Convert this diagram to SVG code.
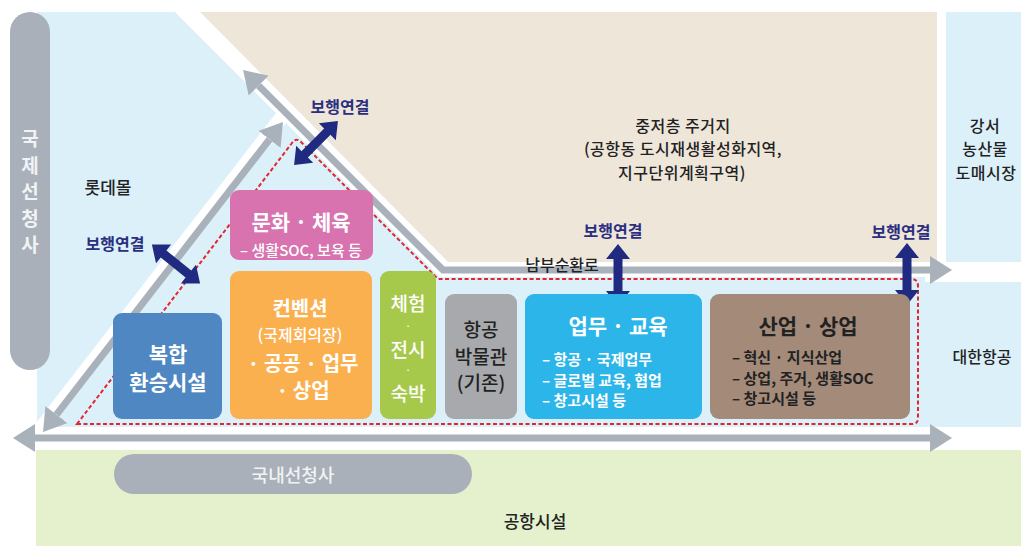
<svg xmlns="http://www.w3.org/2000/svg" width="1021" height="546" viewBox="0 0 1021 546">
<style>
.t{font-family:"Noto Sans CJK KR","Noto Sans",sans-serif;dominant-baseline:central;text-anchor:middle;}
.s{text-anchor:start;}
.b{font-weight:700;}
.m{font-weight:500;}
.dk{fill:#222;}
.wh{fill:#fff;}
.nv{fill:#2a2f80;font-weight:700;font-size:16px;}
.box{stroke:none;}
.road{fill:none;stroke:#a9b1bb;stroke-width:7;stroke-linejoin:miter;}
</style>
<defs>
<marker id="gh" viewBox="0 0 22 28" refX="0" refY="14" markerWidth="22" markerHeight="28" markerUnits="userSpaceOnUse" orient="auto-start-reverse">
<path d="M0,0 L22,14 L0,28 Z" fill="#a9b1bb"/>
</marker>
<polygon id="dbl" points="-31,0 -16,-12 -16,-4.5 16,-4.5 16,-12 31,0 16,12 16,4.5 -16,4.5 -16,12" fill="#1f2a80"/>
</defs>
<g id="background">
<rect x="0" y="0" width="1021" height="546" fill="#fff"/>
<rect x="37" y="12" width="984" height="415" fill="#dcf0fa"/>
<rect x="36" y="450" width="985" height="96" fill="#e5f1cd"/>
<polygon points="200,12 937,12 937,262 448,262" fill="#efe6da"/>
<rect x="937" y="0" width="9" height="282" fill="#fff"/>
<polygon points="175,12 200,12 448,262 1021,262 1021,282 925,282 925,277 440,277" fill="#fff"/>
<line x1="33.7" y1="437.5" x2="285.9" y2="111.7" stroke="#fff" stroke-width="14"/>
</g>
<g id="intl-terminal">
<rect x="10" y="12" width="40" height="358" rx="20" fill="#a9b0b9"/>
<text class="t b" font-size="19" fill="#f1f3f5"><tspan x="30" y="137">국</tspan><tspan x="30" y="164">제</tspan><tspan x="30" y="190">선</tspan><tspan x="30" y="217">청</tspan><tspan x="30" y="243">사</tspan></text>
</g>
<g id="dom-terminal">
<rect x="114" y="454" width="358" height="40" rx="20" fill="#a9b0b9"/>
<text class="t m" x="293" y="474" font-size="18" fill="#f1f3f5">국내선청사</text>
</g>
<g id="connectors">
<path class="road" d="M258.6,85.6 L443,270 L930,270" marker-start="url(#gh)" marker-end="url(#gh)"/>
<path class="road" d="M56.5,414.6 L269.5,139.4" marker-start="url(#gh)" marker-end="url(#gh)"/>
<path class="road" d="M35,438 L930,438" marker-start="url(#gh)" marker-end="url(#gh)"/>
<path d="M77,424 L292,143 Q296,137 301,142 L438,279 L911,279 Q918,279 918,286 L918,418 Q918,424 912,424 Z" fill="none" stroke="#e3262d" stroke-width="2" stroke-dasharray="4 2.5"/>
<use href="#dbl" transform="translate(316,143) rotate(-45)"/>
<use href="#dbl" transform="translate(176,264) rotate(39)"/>
<use href="#dbl" transform="translate(618,275) rotate(90)"/>
<use href="#dbl" transform="translate(907,274) rotate(90)"/>
</g>
<g id="labels">
<text class="t nv" x="340" y="106">보행연결</text>
<text class="t nv" x="115" y="243">보행연결</text>
<text class="t nv" x="613" y="230">보행연결</text>
<text class="t nv" x="901" y="231">보행연결</text>
<text class="t m dk" x="108" y="186" font-size="17">롯데몰</text>
<text class="t m dk" x="562" y="264" font-size="16">남부순환로</text>
<text class="t m dk" x="982" y="356" font-size="16">대한항공</text>
<text class="t m dk" x="535" y="520" font-size="17">공항시설</text>
</g>
<g id="residential">
<text class="t m dk" font-size="16" letter-spacing="0.5"><tspan x="683" y="125">중저층 주거지</tspan><tspan x="683" y="148.3">(공항동 도시재생활성화지역,</tspan><tspan x="682" y="171.6">지구단위계획구역)</tspan></text>
</g>
<g id="gangseo-market">
<text class="t m dk" font-size="16" letter-spacing="0.5"><tspan x="985" y="125">강서</tspan><tspan x="985" y="148.3">농산물</tspan><tspan x="986" y="171.6">도매시장</tspan></text>
</g>
<g id="culture">
<rect class="box" x="230" y="190" width="143" height="70" rx="9" fill="#d873b0"/>
<text class="t b wh" x="301" y="221" font-size="21">문화 · 체육</text>
<text class="t m wh" x="301" y="249" font-size="15">– 생활SOC, 보육 등</text>
</g>
<g id="transfer">
<rect class="box" x="113" y="313" width="109" height="106" rx="9" fill="#4e87c1"/>
<text class="t b wh" font-size="21"><tspan x="168" y="353">복합</tspan><tspan x="168" y="381">환승시설</tspan></text>
</g>
<g id="convention">
<rect class="box" x="230" y="271" width="142" height="148" rx="9" fill="#fbb04f"/>
<text class="t b wh" x="300" y="307" font-size="20">컨벤션</text>
<text class="t m wh" x="300" y="334" font-size="16">(국제회의장)</text>
<text class="t b wh" x="303" y="362" font-size="20">· 공공 · 업무</text>
<text class="t b wh" x="303" y="389" font-size="20">· 상업</text>
</g>
<g id="experience">
<rect class="box" x="380" y="271" width="56" height="148" rx="9" fill="#a6c94c"/>
<text class="t m wh" font-size="19"><tspan x="408" y="302">체험</tspan><tspan x="408" y="325" font-size="10">·</tspan><tspan x="408" y="348">전시</tspan><tspan x="408" y="369" font-size="10">·</tspan><tspan x="408" y="392">숙박</tspan></text>
</g>
<g id="museum">
<rect class="box" x="445" y="294" width="72" height="125" rx="9" fill="#a7a9ac"/>
<text class="t m dk" font-size="19"><tspan x="481" y="328">항공</tspan><tspan x="481" y="355">박물관</tspan><tspan x="481" y="381">(기존)</tspan></text>
</g>
<g id="business">
<rect class="box" x="525" y="294" width="177" height="125" rx="9" fill="#2cb5e9"/>
<text class="t b wh" x="618" y="325" font-size="21">업무 · 교육</text>
<text class="t s b wh" x="542" y="358" font-size="15">– 항공 · 국제업무</text>
<text class="t s b wh" x="542" y="379" font-size="15">– 글로벌 교육, 협업</text>
<text class="t s b wh" x="542" y="399" font-size="15">– 창고시설 등</text>
</g>
<g id="industry">
<rect class="box" x="710" y="294" width="200" height="125" rx="9" fill="#a48b79"/>
<text class="t b dk" x="808" y="325" font-size="21">산업 · 상업</text>
<text class="t s b dk" x="732" y="356" font-size="15">– 혁신 · 지식산업</text>
<text class="t s b dk" x="732" y="377" font-size="15">– 상업, 주거, 생활SOC</text>
<text class="t s b dk" x="732" y="397" font-size="15">– 창고시설 등</text>
</g>
</svg>
